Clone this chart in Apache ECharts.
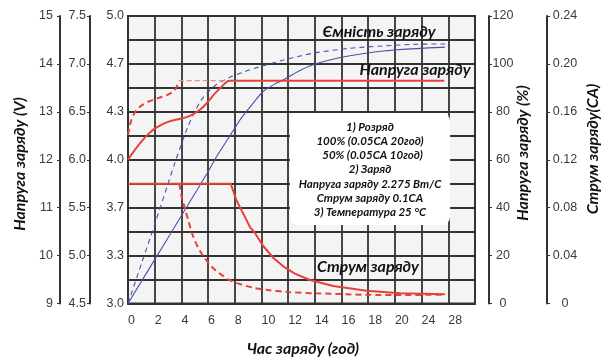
<!DOCTYPE html>
<html>
<head>
<meta charset="utf-8">
<script src="https://cdn.jsdelivr.net/npm/echarts@6/dist/echarts.min.js"></script>
<style>
html,body{margin:0;padding:0;background:#fff;}
#chart{width:613px;height:359px;}
</style>
</head>
<body>
<div id="chart"></div>
<script>
// ---- tick labels ----
const xTickLabels = ['0','2','4','6','8','10','12','14','16','18','20','24','28'];
const cellTicks = ['3.0','3.3','3.7','4.0','4.3','4.7','5.0'];

// ---- series (x in chart grid hours, y in axis units) ----
// Charge voltage, 12V scale (V)
const voltage100 = [[0,12.0],[0.5,12.2],[1,12.38],[1.5,12.53],[2,12.65],[2.5,12.73],[3,12.79],[3.5,12.83],[4,12.86],[4.5,12.9],[5,12.97],[5.5,13.07],[6,13.21],[6.5,13.38],[7,13.52],[7.6,13.65],[23.7,13.65]];
const voltage50 = [[0,12.52],[0.25,12.83],[0.5,12.98],[0.75,13.07],[1,13.13],[1.5,13.21],[2,13.26],[2.5,13.31],[3,13.36],[3.4,13.43],[3.65,13.52],[3.8,13.65]];
const voltage50Flat = [[3.8,13.65],[7.6,13.65]];
// Charge capacity (%)
const capacity100 = [[0,0],[2,18.3],[4,36.6],[6,55],[6.5,60],[7,64.5],[7.75,71],[8.5,77.5],[9.38,83.6],[10.13,88.5],[11.13,92],[11.63,93.3],[12.88,97.3],[14.13,100.2],[16.63,103.4],[19.13,105.4],[21.6,106.4],[23.75,107]];
const capacity50 = [[0,0],[1,16.5],[2,33],[3,50],[3.5,58.5],[4,66.5],[4.5,74],[5,80],[5.5,85],[6,88.3],[6.5,90.8],[7,92.6],[7.75,94.7],[8.75,96.8],[9.5,98.2],[10.5,99.8],[11.63,101.6],[12.9,103.3],[14.1,104.7],[16.6,106.5],[19.1,107.5],[21.6,108.2],[23.75,108.3]];
// Charge current (CA)
const current100 = [[0,0.1],[7.7,0.1],[8.13,0.086],[8.75,0.0725],[9.13,0.064],[9.5,0.059],[10.13,0.048],[10.9,0.038],[11.63,0.031],[12.5,0.025],[13.63,0.0196],[15.38,0.0146],[17.88,0.0107],[20.4,0.0085],[23.75,0.0077]];
const current50 = [[3.85,0.1],[4,0.09],[4.25,0.08],[4.5,0.07],[4.88,0.056],[5.38,0.044],[5.75,0.038],[6.25,0.031],[6.75,0.026],[7.63,0.0195],[8.5,0.0158],[9.38,0.0132],[10.5,0.0112],[11.9,0.0097],[14.13,0.0085],[17.9,0.0073],[20.4,0.0071],[23.75,0.0074]];

// ---- texts ----
const noteLines = ['1) Розряд','100% (0.05CA 20год)','  50% (0.05CA 10год)','2) Заряд','Напруга заряду 2.275 Вт/С','Струм заряду 0.1CA','3) Температура 25 °C'];

const RED = '#e8413b', BLUE = '#4a52a8', INK = '#333';
const tickFont = {color:'#3a3a3a', fontSize:12.5, fontFamily:'Liberation Sans, Arial, sans-serif'};
const titleFont = 'Lato, "Open Sans", sans-serif';

const chart = echarts.init(document.getElementById('chart'), null, {renderer:'canvas'});

function yAx(o){
  return Object.assign({
    type:'value', position:'left', offset:0,
    axisLine:{show:true, onZero:false, lineStyle:{color:INK, width:2}},
    axisTick:{show:true, length:3, lineStyle:{color:INK, width:1}},
    axisLabel:Object.assign({margin:4}, tickFont),
    splitLine:{show:false}
  }, o);
}

const noteGraphics = noteLines.map((t,i)=>({
  type:'text', x:370, y:127 + i*14.2, z:60,
  style:{text:t, textAlign:'center', textVerticalAlign:'middle', fill:'#111',
    font:'italic bold 11.5px ' + titleFont}
}));

function title(text, x, y, rot){
  const g = {type:'text', x:x, y:y, z:60, style:{text:text, textAlign:'center', textVerticalAlign:'middle', fill:'#111', font:'italic bold 16px '+titleFont}};
  if (rot) g.rotation = Math.PI/2;
  return g;
}

chart.setOption({
  animation:false,
  grid:{left:128, top:16, width:347, height:287.5, show:true, backgroundColor:'#f4f4f4', borderColor:INK, borderWidth:2},
  xAxis:{
    type:'value', min:0, max:26, interval:2,
    axisLine:{show:true, lineStyle:{color:INK, width:2}},
    axisTick:{show:false},
    axisLabel:Object.assign({margin:11, align:'left', formatter:(v)=> (xTickLabels[v/2] !== undefined ? xTickLabels[v/2] : '')}, tickFont),
    splitLine:{show:true, lineStyle:{color:INK, width:1.8}}
  },
  yAxis:[
    yAx({min:0, max:12, interval:1, axisTick:{show:false},
      axisLabel:Object.assign({margin:4, formatter:(v)=> (v%2===0 ? cellTicks[v/2] : '')}, tickFont),
      splitLine:{show:true, lineStyle:{color:INK, width:1.8}}}),
    yAx({min:4.5, max:7.5, interval:0.5, offset:38,
      axisLabel:Object.assign({margin:4, formatter:(v)=>v.toFixed(1)}, tickFont)}),
    yAx({min:9, max:15, interval:1, offset:68,
      axisLabel:Object.assign({margin:7}, tickFont)}),
    yAx({min:0, max:120, interval:20, position:'right', offset:14,
      axisLabel:Object.assign({margin:14, align:'center'}, tickFont)}),
    yAx({min:0, max:0.24, interval:0.04, position:'right', offset:72,
      axisLabel:Object.assign({margin:18, align:'center', formatter:(v)=> v===0 ? '0' : v.toFixed(2)}, tickFont)})
  ],
  series:[
    {name:'Ємність 100%', type:'line', yAxisIndex:3, data:capacity100, symbol:'none', smooth:0.3, lineStyle:{color:BLUE, width:1.1}},
    {name:'Ємність 50%', type:'line', yAxisIndex:3, data:capacity50, symbol:'none', smooth:0.3, lineStyle:{color:BLUE, width:1.1, type:[5,4]}},
    {name:'Напруга 50% flat', type:'line', yAxisIndex:2, data:voltage50Flat, symbol:'none', lineStyle:{color:'#f08a85', width:1.2, type:[5,3]}},
    {name:'Напруга 100%', type:'line', yAxisIndex:2, data:voltage100, symbol:'none', smooth:0.3, lineStyle:{color:RED, width:2}},
    {name:'Напруга 50%', type:'line', yAxisIndex:2, data:voltage50, symbol:'none', smooth:0.3, lineStyle:{color:RED, width:2, type:[6,4]}},
    {name:'Струм 100%', type:'line', yAxisIndex:4, data:current100, symbol:'none', lineStyle:{color:RED, width:2}},
    {name:'Струм 50%', type:'line', yAxisIndex:4, data:current50, symbol:'none', smooth:0.3, lineStyle:{color:RED, width:2, type:[6,4]}}
  ],
  graphic:[
    {type:'rect', shape:{x:290, y:113, width:160, height:112, r:8}, style:{fill:'#fff'}, z:50}
  ].concat(noteGraphics, [
    title('Ємність заряду', 379, 32),
    title('Напруга заряду', 415, 70),
    title('Струм заряду', 368, 267),
    title('Час заряду (год)', 303, 349),
    title('Напруга заряду (V)', 20, 164, true),
    title('Напруга заряду (%)', 523, 153, true),
    title('Струм заряду(CA)', 593, 149, true)
  ])
});
</script>
</body>
</html>
